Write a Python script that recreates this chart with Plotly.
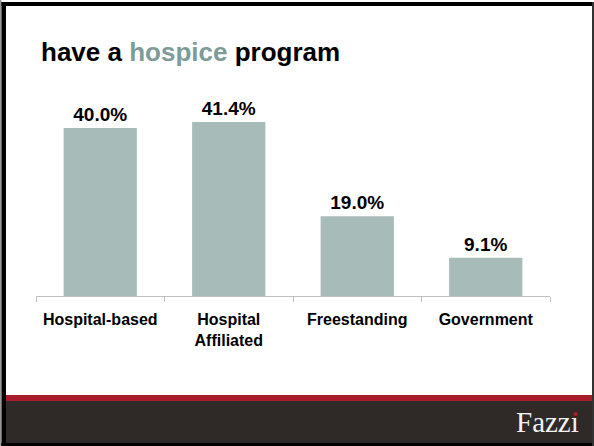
import plotly.graph_objects as go

categories = ["Hospital-based", "Hospital<br>Affiliated", "Freestanding", "Government"]
values = [40.0, 41.4, 19.0, 9.1]
value_labels = ["40.0%", "41.4%", "19.0%", "9.1%"]

W, H = 594, 446
def px(x):
    return x / W
def py(y):
    return 1 - y / H

BAR = "#a7bbb8"
FONT = "Liberation Sans, Arial, sans-serif"

fig = go.Figure()
fig.add_trace(go.Bar(
    x=categories, y=values, text=value_labels, textposition="outside",
    textfont=dict(family=FONT, size=19, color="#000000", weight="bold"),
    marker=dict(color=BAR, line=dict(width=0)), width=0.57, cliponaxis=False,
))

axis_bottom, axis_top = 296, 100
ymax = (axis_bottom - axis_top) / 4.2

shapes = [
    dict(type="rect", xref="paper", yref="paper", x0=px(4), x1=px(594), y0=py(401), y1=py(395),
         fillcolor="#a91d2b", line=dict(width=0), layer="below"),
    dict(type="rect", xref="paper", yref="paper", x0=px(4), x1=px(594), y0=py(443), y1=py(401),
         fillcolor="#2f2a27", line=dict(width=0), layer="below"),
    dict(type="rect", xref="paper", yref="paper", x0=px(0), x1=px(594), y0=py(446), y1=py(443),
         fillcolor="#000000", line=dict(width=0), layer="below"),
    dict(type="rect", xref="paper", yref="paper", x0=px(0), x1=px(1.5), y0=py(446), y1=py(0),
         fillcolor="#9a9a9a", line=dict(width=0), layer="below"),
    dict(type="rect", xref="paper", yref="paper", x0=px(1.5), x1=px(6), y0=py(446), y1=py(2),
         fillcolor="#000000", line=dict(width=0), layer="below"),
    dict(type="rect", xref="paper", yref="paper", x0=px(1.5), x1=px(594), y0=py(6), y1=py(2),
         fillcolor="#000000", line=dict(width=0), layer="below"),
    dict(type="rect", xref="paper", yref="paper", x0=px(592), x1=px(594), y0=py(446), y1=py(2),
         fillcolor="#333333", line=dict(width=0), layer="below"),
    dict(type="circle", xref="paper", yref="paper", x0=px(573.6), x1=px(577.8), y0=py(416.2), y1=py(412.0),
         fillcolor="#b01c2c", line=dict(width=0), layer="above"),
]

annotations = [
    dict(text="<b>have a <span style='color:#7e9c97'>hospice</span> program</b>", xref="paper", yref="paper",
         x=px(39), y=py(52), xanchor="left", yanchor="middle", showarrow=False,
         font=dict(family=FONT, size=26, color="#000000")),
    dict(text="Fazz\u0131", xref="paper", yref="paper", x=px(581), y=py(422), xanchor="right", yanchor="middle",
         showarrow=False, font=dict(family="Liberation Serif, Times New Roman, serif", size=29, color="#f2f2f2")),
]

fig.update_layout(
    width=W, height=H, margin=dict(l=0, r=0, t=0, b=0),
    paper_bgcolor="#ffffff", plot_bgcolor="#ffffff", showlegend=False,
    shapes=shapes, annotations=annotations,
    font=dict(family=FONT),
    xaxis=dict(domain=[px(36), px(550)], range=[-0.5, 3.5], showline=True, linecolor="#bfbfbf", linewidth=1,
               ticks="outside", ticklen=5, tickcolor="#bfbfbf", tickson="boundaries",
               ticklabelstandoff=9,
               tickfont=dict(family=FONT, size=16, color="#000000", weight="bold"),
               showgrid=False, automargin=False),
    yaxis=dict(domain=[py(axis_bottom), py(axis_top)], range=[0, ymax], visible=False, showgrid=False,
               automargin=False),
)

fig.write_html("out.html")
